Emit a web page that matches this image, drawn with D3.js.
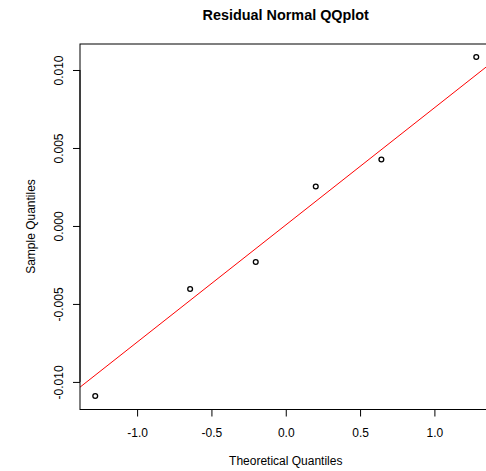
<!DOCTYPE html>
<html>
<head>
<meta charset="utf-8">
<script src="https://cdn.jsdelivr.net/npm/d3@7"></script>
<style>
  body { margin: 0; background: #fff; }
  svg { display: block; }
  text { font-family: "Liberation Sans", Arial, Helvetica, sans-serif; fill: #000; }
</style>
</head>
<body>
<svg id="chart" width="486" height="471"></svg>
<script>
// Labels
const title = "Residual Normal QQplot";
const xLabel = "Theoretical Quantiles";
const yLabel = "Sample Quantiles";

// Normal quantiles (x) and sorted residuals (y)
const theoretical = [-1.2816, -0.6433, -0.2019, 0.2019, 0.6433, 1.2816];
const sample = [-0.01090, -0.00404, -0.00231, 0.00253, 0.00426, 0.01083];

// Axis ticks
const xTicks = [-1.0, -0.5, 0.0, 0.5, 1.0];
const yTicks = [-0.010, -0.005, 0.000, 0.005, 0.010];

const svg = d3.select("#chart");
const plot = { left: 80, right: 491.5, top: 43.5, bottom: 409.5 };

// Data range padded by 4% on each side
function padded(values) {
  const [lo, hi] = d3.extent(values);
  const pad = (hi - lo) * 0.04;
  return [lo - pad, hi + pad];
}

const x = d3.scaleLinear().domain(padded(theoretical)).range([plot.left, plot.right]);
const y = d3.scaleLinear().domain(padded(sample)).range([plot.bottom, plot.top]);

// Reference line: intercept = mean, slope = standard deviation of the residuals
const intercept = d3.mean(sample);
const slope = d3.deviation(sample);

svg.append("clipPath").attr("id", "plot-clip")
  .append("rect")
  .attr("x", plot.left).attr("y", plot.top)
  .attr("width", plot.right - plot.left).attr("height", plot.bottom - plot.top);

const [xLo, xHi] = x.domain();
svg.append("line")
  .attr("clip-path", "url(#plot-clip)")
  .attr("x1", x(xLo)).attr("y1", y(intercept + slope * xLo))
  .attr("x2", x(xHi)).attr("y2", y(intercept + slope * xHi))
  .attr("stroke", "#ff0000").attr("stroke-width", 1);

// Points
svg.append("g")
  .selectAll("circle")
  .data(theoretical.map((t, i) => [t, sample[i]]))
  .join("circle")
  .attr("cx", d => x(d[0]))
  .attr("cy", d => y(d[1]))
  .attr("r", 2.4)
  .attr("fill", "none")
  .attr("stroke", "#000")
  .attr("stroke-width", 1.3);

// Plot box
svg.append("rect")
  .attr("x", plot.left).attr("y", 44)
  .attr("width", plot.right - plot.left).attr("height", plot.bottom - 44)
  .attr("fill", "none").attr("stroke", "#000").attr("stroke-width", 1);

// Bottom axis
const xAxis = svg.append("g")
  .attr("transform", `translate(0,${plot.bottom})`)
  .call(d3.axisBottom(x).tickValues(xTicks).tickSize(7).tickFormat(d => d.toFixed(1)));
xAxis.select(".domain").remove();
xAxis.append("line")
  .attr("x1", x(xTicks[0])).attr("x2", x(xTicks[xTicks.length - 1]))
  .attr("stroke", "#000");
xAxis.selectAll(".tick line").attr("stroke", "#000");
xAxis.selectAll(".tick text")
  .attr("y", 27).attr("dy", 0)
  .style("font-size", "12px")
  .style("font-family", "'Liberation Sans', Arial, sans-serif")
  .attr("fill", "#000");

// Left axis
const yAxis = svg.append("g")
  .attr("transform", `translate(${plot.left},0)`)
  .call(d3.axisLeft(y).tickValues(yTicks).tickSize(7).tickFormat(d => d.toFixed(3)));
yAxis.select(".domain").remove();
yAxis.append("line")
  .attr("y1", y(yTicks[0])).attr("y2", y(yTicks[yTicks.length - 1]))
  .attr("stroke", "#000");
yAxis.selectAll(".tick line").attr("stroke", "#000");
yAxis.selectAll(".tick text")
  .attr("transform", "rotate(-90)")
  .attr("x", 0).attr("y", -17).attr("dy", 0)
  .attr("text-anchor", "middle")
  .style("font-size", "12px")
  .style("font-family", "'Liberation Sans', Arial, sans-serif")
  .attr("fill", "#000");

// Titles
const midX = (plot.left + plot.right) / 2;
const midY = (plot.top + plot.bottom) / 2;

svg.append("text")
  .attr("x", midX).attr("y", 20)
  .attr("text-anchor", "middle")
  .style("font-size", "14.4px").style("font-weight", "bold")
  .text(title);

svg.append("text")
  .attr("x", midX).attr("y", 465)
  .attr("text-anchor", "middle")
  .style("font-size", "12px")
  .text(xLabel);

svg.append("text")
  .attr("transform", `translate(35,${midY}) rotate(-90)`)
  .attr("text-anchor", "middle")
  .style("font-size", "12px")
  .text(yLabel);
</script>
</body>
</html>
